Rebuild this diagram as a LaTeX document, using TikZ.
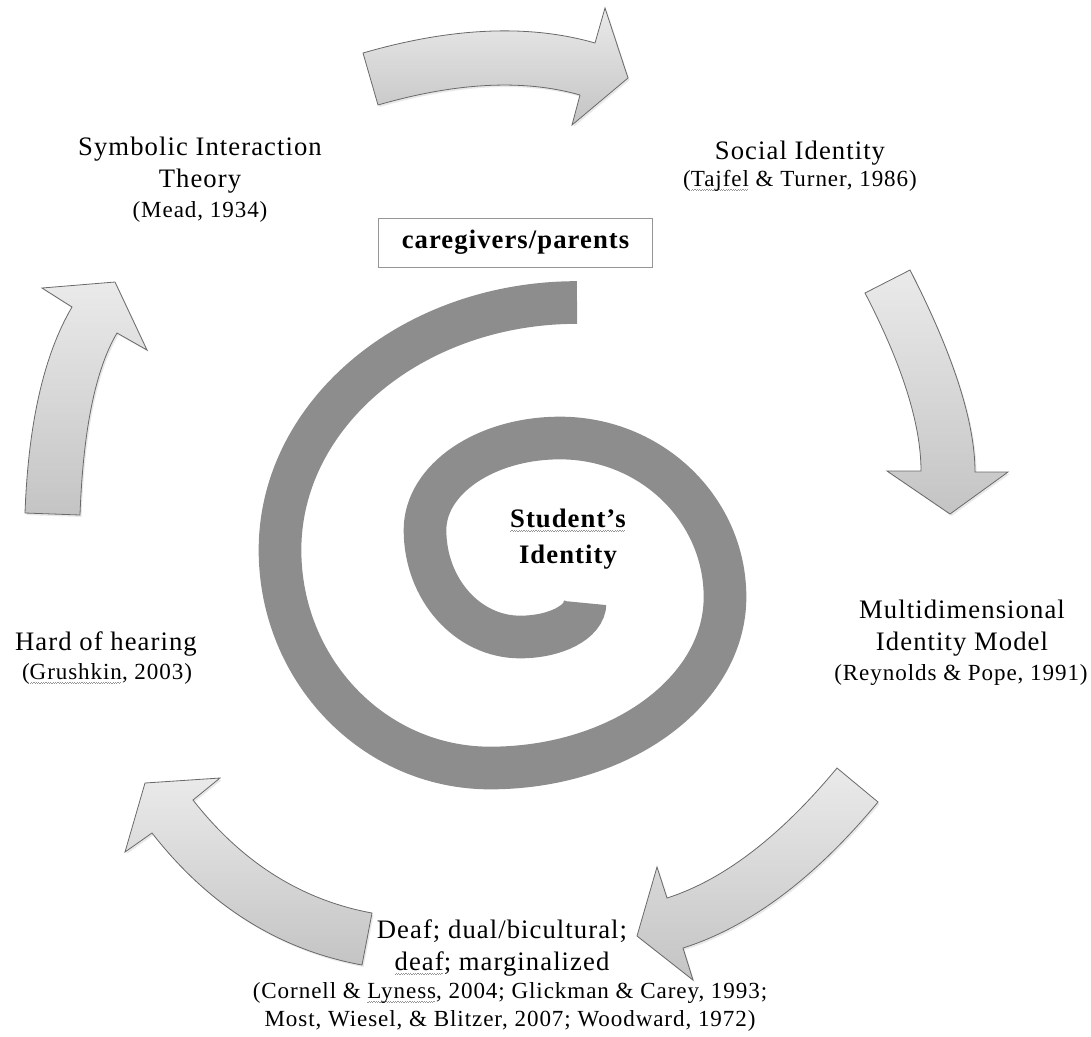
\documentclass[tikz,border=0pt]{standalone}
\usepackage{fontspec}
\setmainfont[LetterSpace=4]{Liberation Serif}
\usetikzlibrary{shadows}
\definecolor{spiralgray}{RGB}{141,141,141}
\definecolor{arrowedge}{RGB}{105,105,105}
\definecolor{arrowtop}{RGB}{234,234,234}
\definecolor{arrowbot}{RGB}{196,196,196}
\definecolor{boxedge}{RGB}{150,150,150}
\definecolor{squig}{RGB}{150,150,150}
\newsavebox\sqgbox
\newcommand\sqgunit{\hbox{\rule{0.9pt}{0.45pt}\raisebox{0.7pt}{\rule{0.9pt}{0.45pt}}}}
\newcommand\sqg[1]{\sbox\sqgbox{#1}\rlap{\smash{\raisebox{-3.2pt}{\color{squig}\hbox to \wd\sqgbox{\leaders\sqgunit\hfill}}}}\usebox\sqgbox}
\begin{document}
\begin{tikzpicture}[x=0.75pt,y=-0.75pt,
  blockarrow/.style={draw=arrowedge, line width=0.6pt, line join=miter,
    top color=arrowtop, bottom color=arrowbot,
    drop shadow={opacity=0.18, shadow xshift=1.2pt, shadow yshift=-1.5pt}},
  spiralband/.style={draw=spiralgray, line width=32pt},
  maintext/.style={font=\fontsize{20}{24}\selectfont, align=center, inner sep=0pt},
  citetext/.style={font=\fontsize{17.3}{21}\selectfont, align=center, inner sep=0pt},
  boldbox/.style={draw=boxedge, line width=0.7pt, font=\bfseries\fontsize{20}{24}\selectfont,
    minimum width=206pt, minimum height=36.75pt, inner sep=0pt},
  centertext/.style={font=\bfseries\fontsize{20}{27}\selectfont, align=center, inner sep=0pt}]
\useasboundingbox (0,0) rectangle (1091,1036);

% spiral
\draw[spiralband] (577,302.5)
  arc[start angle=270, end angle=180, x radius=297, y radius=247.5]
  arc[start angle=180, end angle=90, x radius=210, y radius=218]
  arc[start angle=90, end angle=0, x radius=235, y radius=171]
  arc[start angle=360, end angle=270, x radius=165, y radius=159]
  arc[start angle=270, end angle=180, x radius=135, y radius=92]
  arc[start angle=180, end angle=90, x radius=95, y radius=107]
  arc[start angle=90, end angle=0, x radius=65, y radius=34];

% block arrows
\path[blockarrow] (363,53) .. controls (451.7,27.3) and (529,24) .. (595,43)
  -- (605,8) -- (628,78) -- (572,125) -- (580,95)
  .. controls (524,79) and (456.7,82.3) .. (378,105) -- cycle;
\path[blockarrow] (910,270) .. controls (953.3,354.7) and (975,422) .. (975,472)
  -- (1008,472) -- (950,514) -- (887,471) -- (921,471)
  .. controls (921,424.3) and (902.3,365) .. (865,293) -- cycle;
\path[blockarrow] (837,768) .. controls (780,836.7) and (723.3,880) .. (667,898)
  -- (657,867) -- (637,936) -- (693,980) -- (683,948)
  .. controls (750,926.7) and (815,878) .. (878,802) -- cycle;
\path[blockarrow] (372,913) .. controls (301.3,900) and (241.7,862.3) .. (193,800)
  -- (220,778) -- (145,783) -- (125,852) -- (152,833)
  .. controls (208.7,905.7) and (278.7,949.7) .. (362,965) -- cycle;
\path[blockarrow] (25,513) .. controls (28.3,423.1) and (44,354.5) .. (72,307)
  -- (42,288) -- (115,282) -- (147,350) -- (117,333)
  .. controls (95.4,369.5) and (83.1,430.2) .. (80,515) -- cycle;

% texts
\node[maintext] (sym) at (200,165) {Symbolic Interaction\\Theory};
\node[citetext] (symc) at (200,212) {(Mead, 1934)};
\node[maintext] (soc) at (800,153) {Social Identity};
\node[citetext] (socc) at (800,181) {(\sqg{Tajfel} \& Turner, 1986)};
\node[maintext] (multi) at (962,628) {Multidimensional\\Identity Model};
\node[citetext] (multic) at (961,675) {(Reynolds \& Pope, 1991)};
\node[maintext] (hard) at (106,644) {Hard of hearing};
\node[citetext] (hardc) at (107,674) {(\sqg{Grushkin}, 2003)};
\node[maintext] (deaf) at (502,948) {Deaf; dual/bicultural;\\\sqg{deaf}; marginalized};
\node[citetext] (deafc) at (510,1007) {(Cornell \& \sqg{Lyness}, 2004; Glickman \& Carey, 1993;\\Most, Wiesel, \& Blitzer, 2007; Woodward, 1972)};
\node[boldbox] (care) at (515.5,242.5) {caregivers/parents};
\node[centertext] (stud) at (568,539) {\sqg{Student’s}\\Identity};
\end{tikzpicture}
\end{document}
